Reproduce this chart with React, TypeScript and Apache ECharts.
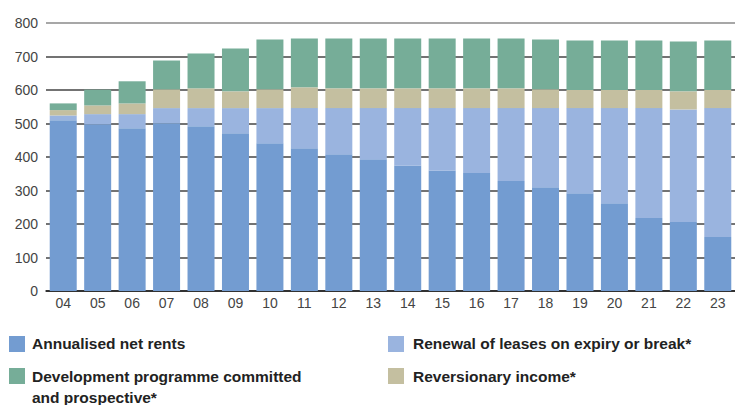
import React, { useEffect, useRef } from "react";
import * as echarts from "echarts";

const years = ["04","05","06","07","08","09","10","11","12","13","14","15","16","17","18","19","20","21","22","23"];
const netRents = [510,498,486,501,492,471,441,426,408,393,375,360,352,328,310,292,262,218,206,161];
const renewal = [14,30,42,45,54,75,105,120,138,153,171,186,194,218,236,254,284,328,336,385];
const reversionary = [16,26,32,56,59,50,56,62,59,59,59,59,59,59,56,54,54,54,54,54];
const development = [20,47,66,86,104,128,149,146,149,149,149,149,149,149,149,148,148,148,149,148];
const yTicks = [0,100,200,300,400,500,600,700,800];

const seriesNames = [
  "Annualised net rents",
  "Renewal of leases on expiry or break*",
  "Reversionary income*",
  "Development programme committed and prospective*",
];
const colors = ["#739cd1", "#9ab4df", "#c4bfa0", "#76ad98"];

export default function App() {
  const ref = useRef<HTMLDivElement>(null);
  useEffect(() => {
    if (!ref.current) return;
    const chart = echarts.init(ref.current, null, { renderer: "svg" });
    const datasets = [netRents, renewal, reversionary, development];
    const legendFont = "bold 15.5px 'Liberation Sans', Arial, sans-serif";
    const txt = (x: number, y: number, text: string) => ({
      type: "text",
      x,
      y,
      style: { text, font: legendFont, fill: "#222", textVerticalAlign: "middle" },
    });
    const sq = (x: number, y: number, color: string) => ({
      type: "rect",
      shape: { x, y, width: 16, height: 16 },
      style: { fill: color },
    });
    chart.setOption({
      animation: false,
      grid: { left: 46, right: 0, top: 23, bottom: 114 },
      xAxis: {
        type: "category",
        data: years,
        axisTick: { show: false },
        axisLine: { show: true, lineStyle: { color: "#222", width: 1.5 } },
        axisLabel: { color: "#444", fontSize: 14, fontFamily: "'Liberation Sans', Arial, sans-serif", margin: 5 },
      },
      yAxis: {
        type: "value",
        min: 0,
        max: 800,
        interval: 100,
        axisLine: { show: false },
        axisTick: { show: false },
        axisLabel: {
          color: "#444",
          fontSize: 14,
          fontFamily: "'Liberation Sans', Arial, sans-serif",
          margin: 8,
          formatter: (v: number) => (yTicks.includes(v) ? String(v) : ""),
        },
        splitLine: {
          show: true,
          lineStyle: {
            width: 1.5,
            color: ["#333", "#444", "#444", "#444", "#444", "#444", "#444", "#444", "#8a8a8a"],
          },
        },
      },
      series: datasets.map((d, i) => ({
        name: seriesNames[i],
        type: "bar",
        stack: "total",
        data: d,
        barWidth: 27,
        itemStyle: { color: colors[i] },
      })),
      graphic: [
        sq(9, 336, colors[0]),
        txt(32, 343, seriesNames[0]),
        sq(9, 368, colors[3]),
        txt(32, 376, "Development programme committed"),
        txt(32, 397, "and prospective*"),
        sq(388, 336, colors[1]),
        txt(413, 343, seriesNames[1]),
        sq(388, 368, colors[2]),
        txt(413, 376, seriesNames[2]),
      ],
    });
    return () => chart.dispose();
  }, []);
  return (
    <div
      ref={ref}
      style={{ position: "fixed", left: 0, top: 0, width: 735, height: 405, background: "#fff" }}
    />
  );
}
